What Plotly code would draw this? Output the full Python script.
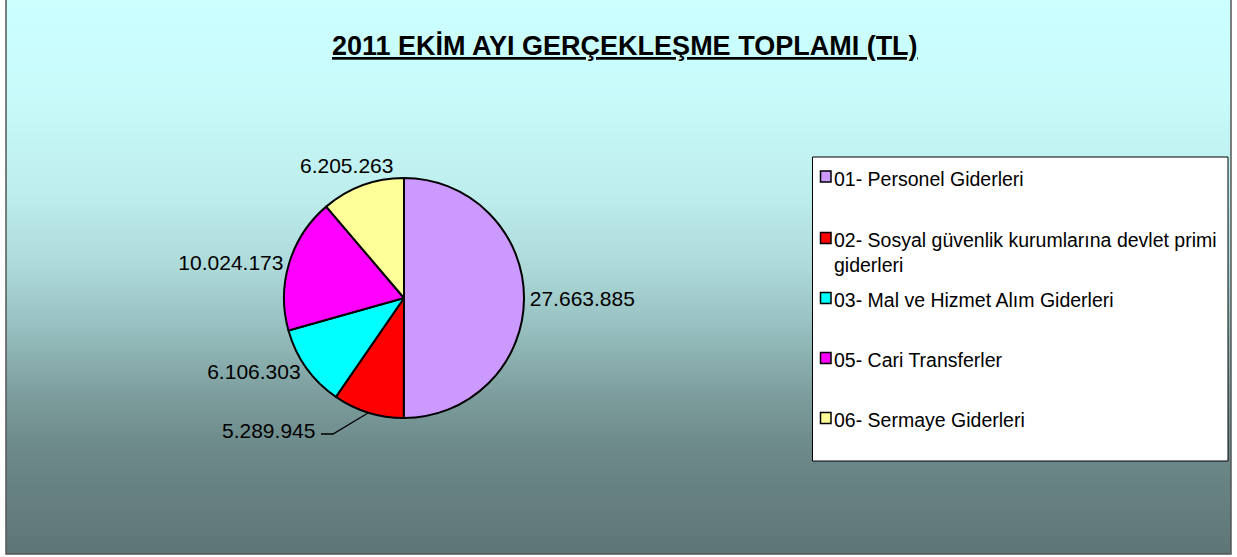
import plotly.graph_objects as go

# ---------------- data ----------------
categories = [
    "01- Personel Giderleri",
    "02- Sosyal güvenlik kurumlarına devlet primi giderleri",
    "03- Mal ve Hizmet Alım Giderleri",
    "05- Cari Transferler",
    "06- Sermaye Giderleri",
]
legend_labels = [
    "01- Personel Giderleri",
    "02- Sosyal güvenlik kurumlarına devlet primi<br>giderleri",
    "03- Mal ve Hizmet Alım Giderleri",
    "05- Cari Transferler",
    "06- Sermaye Giderleri",
]
values = [27663885, 5289945, 6106303, 10024173, 6205263]
colors = ["#CC99FF", "#FF0000", "#00FFFF", "#FF00FF", "#FFFF99"]
title_text = "2011 EKİM AYI GERÇEKLEŞME TOPLAMI (TL)"

# ---------------- layout helpers ----------------
W, H = 1237, 557
FONT = "Arial, 'Liberation Sans', sans-serif"


def px(x):
    return x / W


def py(y):
    return 1 - y / H


def fmt(v):
    return f"{v:,}".replace(",", ".")


# background gradient stops (pixel y, rgb)
grad_stops = [
    (0, (204, 255, 255)),
    (100, (200, 250, 250)),
    (200, (189, 236, 236)),
    (270, (172, 216, 216)),
    (330, (150, 190, 190)),
    (390, (126, 159, 159)),
    (450, (109, 137, 138)),
    (554, (94, 117, 118)),
]


def grad_color(y):
    for (y0, c0), (y1, c1) in zip(grad_stops[:-1], grad_stops[1:]):
        if y0 <= y <= y1:
            t = (y - y0) / (y1 - y0)
            return "rgb(%d,%d,%d)" % tuple(round(a + (b - a) * t) for a, b in zip(c0, c1))
    return "rgb(%d,%d,%d)" % grad_stops[-1][1]


shapes = []
FX0, FX1, FY0, FY1 = 6, 1231, 0, 554
step = 2
for y in range(FY0, FY1, step):
    shapes.append(dict(type="rect", xref="paper", yref="paper",
                       x0=px(FX0), x1=px(FX1), y0=py(min(y + step, FY1)), y1=py(y),
                       fillcolor=grad_color(y + step / 2), line=dict(width=0), layer="below"))
# frame
shapes.append(dict(type="rect", xref="paper", yref="paper",
                   x0=px(FX0), x1=px(FX1), y0=py(FY1), y1=py(FY0 - 3),
                   line=dict(color="#555555", width=1.5), fillcolor="rgba(0,0,0,0)", layer="below"))

# legend box
LX0, LX1, LY0, LY1 = 812.5, 1228, 157, 461
shapes.append(dict(type="rect", xref="paper", yref="paper",
                   x0=px(LX0), x1=px(LX1), y0=py(LY1), y1=py(LY0),
                   line=dict(color="black", width=1), fillcolor="white", layer="below"))

legend_y = [176.5, 238, 298, 358, 418]
annotations = []
for lab, col, ly in zip(legend_labels, colors, legend_y):
    shapes.append(dict(type="rect", xref="paper", yref="paper",
                       x0=px(820.5), x1=px(831), y0=py(ly + 5.5), y1=py(ly - 5.5),
                       line=dict(color="black", width=1.5), fillcolor=col, layer="above"))
    annotations.append(dict(text=lab, xref="paper", yref="paper", x=px(832), y=py(ly - 11),
                            xanchor="left", yanchor="top", align="left", showarrow=False,
                            font=dict(family=FONT, size=19.5, color="black")))

# red slice label with leader line
annotations.append(dict(text=fmt(values[1]), xref="paper", yref="paper",
                        x=px(268), y=py(430), xanchor="center", yanchor="middle", showarrow=False,
                        font=dict(family=FONT, size=21, color="black")))
shapes.append(dict(type="path", xref="paper", yref="paper",
                   path="M %f %f L %f %f L %f %f" % (px(321), py(434), px(333), py(434), px(368), py(413)),
                   line=dict(color="black", width=1.3), layer="above"))
# yellow slice label (placed above the slice as in the original)
annotations.append(dict(text=fmt(values[4]), xref="paper", yref="paper",
                        x=px(346), y=py(165), xanchor="center", yanchor="middle", showarrow=False,
                        font=dict(family=FONT, size=21, color="black")))

# title
annotations.append(dict(text="<u>" + title_text + "</u>", xref="paper", yref="paper",
                        x=px(625), y=py(46), xanchor="center", yanchor="middle", showarrow=False,
                        font=dict(family=FONT, size=27, color="black", weight="bold")))

templates = ["%{value:,.0f}"] * len(values)
templates[1] = ""
templates[4] = ""

fig = go.Figure()
fig.add_trace(go.Pie(
    labels=categories, values=values, sort=False, direction="clockwise", rotation=0,
    marker=dict(colors=colors, line=dict(color="black", width=2)),
    texttemplate=templates, textposition="outside",
    textfont=dict(family=FONT, size=21, color="black"),
    domain=dict(x=[px(284), px(524)], y=[py(418), py(178)]),
    showlegend=False, hoverinfo="label+value+percent",
))

fig.update_layout(
    width=W, height=H, margin=dict(l=0, r=0, t=0, b=0),
    paper_bgcolor="white", plot_bgcolor="rgba(0,0,0,0)",
    separators=",.", showlegend=False,
    shapes=shapes, annotations=annotations,
    font=dict(family=FONT, color="black"),
)

fig.write_html("out.html", config={"displayModeBar": False},
               post_script="document.body.style.margin='0';document.body.style.overflow='hidden';")
